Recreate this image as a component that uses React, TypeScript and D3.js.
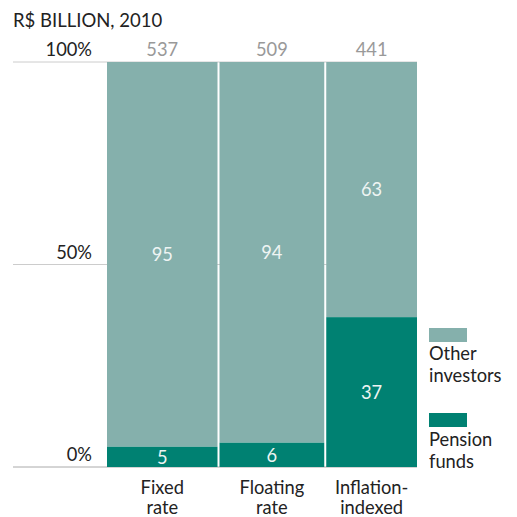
import React from "react";
import * as d3 from "d3";

const categories = ["Fixed rate", "Floating rate", "Inflation-indexed"];
const categoryLines = [["Fixed", "rate"], ["Floating", "rate"], ["Inflation-", "indexed"]];
const totals = [537, 509, 441];
const pensionShare = [5, 6, 37];
const otherShare = [95, 94, 63];
const yTicks = [0, 50, 100];
const seriesNames = ["Other investors", "Pension funds"];

const W = 517, H = 517;
const LIGHT = "#85b0ac";
const DARK = "#008172";
const FONT = "Lato, 'Open Sans', sans-serif";
const FS = 18.3;

export default function App() {
  const x0 = 107, x1 = 417, gap = 2;
  const y = d3.scaleLinear().domain([0, 100]).range([467, 62]);
  const totalSum = d3.sum(totals);
  const usable = x1 - x0 - gap * (totals.length - 1);
  const wScale = d3.scaleLinear().domain([0, totalSum]).range([0, usable]);
  const cum = d3.cumsum(totals);
  const bars = totals.map((t, i) => {
    const start = x0 + wScale(cum[i] - t) + gap * i;
    return { x: start, w: wScale(t), cx: start + wScale(t) / 2 };
  });

  return (
    <svg width={W} height={H} style={{ position: "absolute", left: 0, top: 0, fontFamily: FONT }}>
      <text x={13} y={27} fontSize={18.5} fill="#222">R$ BILLION, 2010</text>
      {yTicks.map((t) => (
        <g key={t}>
          <line x1={13} x2={x1} y1={y(t)} y2={y(t)} stroke={t === 0 ? "#aaa" : "#ccc"} strokeWidth={1} />
          <text x={92} y={y(t) - 6} textAnchor="end" fontSize={FS} fill="#222">{t}%</text>
        </g>
      ))}
      {bars.map((b, i) => (
        <g key={categories[i]}>
          <rect x={b.x} y={y(100)} width={b.w} height={y(pensionShare[i]) - y(100)} fill={LIGHT} />
          <rect x={b.x} y={y(pensionShare[i])} width={b.w} height={y(0) - y(pensionShare[i])} fill={DARK} />
          <text x={b.cx} y={y(100) - 6} textAnchor="middle" fontSize={FS} fill="#999">{totals[i]}</text>
          <text x={b.cx} y={(y(100) + y(pensionShare[i])) / 2} dy="0.35em" textAnchor="middle" fontSize={FS} fill="#eef4f3">{otherShare[i]}</text>
          <text x={b.cx} y={(y(0) + y(pensionShare[i])) / 2} dy="0.4em" textAnchor="middle" fontSize={FS} fill="#eef4f3">{pensionShare[i]}</text>
          {categoryLines[i].map((l, j) => (
            <text key={j} x={b.cx} y={494 + j * 20} textAnchor="middle" fontSize={FS} fill="#222">{l}</text>
          ))}
        </g>
      ))}
      <rect x={429} y={328} width={38} height={14} fill={LIGHT} />
      <text x={429} y={360} fontSize={FS} fill="#222">Other</text>
      <text x={429} y={382} fontSize={FS} fill="#222">investors</text>
      <rect x={429} y={413} width={38} height={14} fill={DARK} />
      <text x={429} y={446} fontSize={FS} fill="#222">Pension</text>
      <text x={429} y={468} fontSize={FS} fill="#222">funds</text>
      <title>{seriesNames.join(", ")}</title>
    </svg>
  );
}
